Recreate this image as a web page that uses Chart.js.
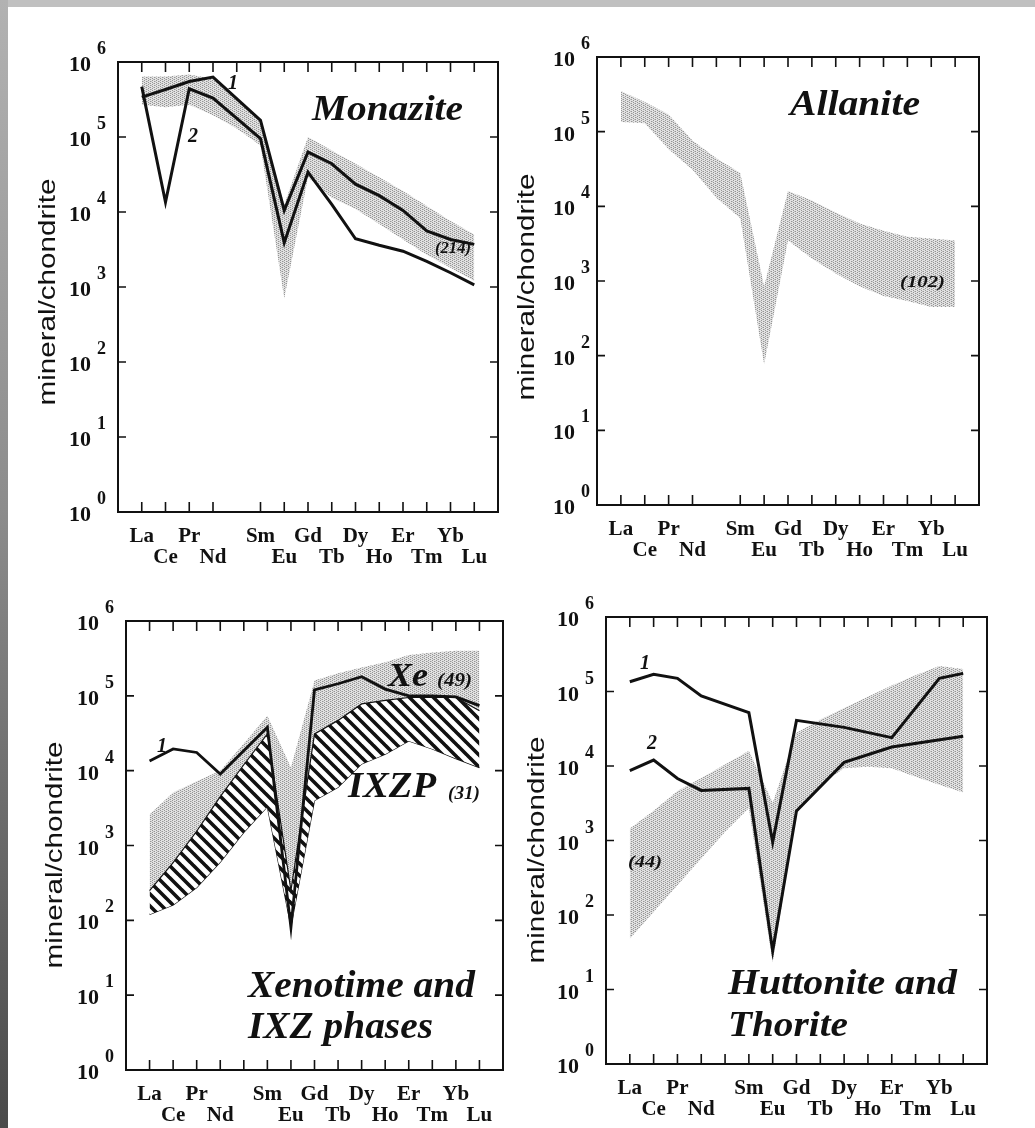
<!DOCTYPE html>
<html>
<head>
<meta charset="utf-8">
<title>REE patterns</title>
<script src="https://cdn.jsdelivr.net/npm/chart.js@4.4.1/dist/chart.umd.min.js"></script>
<style>
  html, body { margin: 0; padding: 0; background: #fff; }
  body { position: relative; width: 1035px; height: 1128px; overflow: hidden; }
  canvas { position: absolute; }
  #topbar { position: absolute; left: 0; top: 0; width: 1035px; height: 7px; background: #c0c0c0; }
  #leftbar { position: absolute; left: 0; top: 0; width: 8px; height: 1128px;
             background: linear-gradient(#b2b2b2, #8c8c8c 45%, #4a4a4a); }
</style>
</head>
<body>
<canvas id="monazite" width="517" height="564" style="left:0;top:0"></canvas>
<canvas id="allanite" width="518" height="564" style="left:517px;top:0"></canvas>
<canvas id="xenotime" width="517" height="564" style="left:0;top:564px"></canvas>
<canvas id="huttonite" width="518" height="564" style="left:517px;top:564px"></canvas>
<div id="topbar"></div>
<div id="leftbar"></div>
<script>
// REE in order, Pm has no label
var REE = ['La', 'Ce', 'Pr', 'Nd', '', 'Sm', 'Eu', 'Gd', 'Tb', 'Dy', 'Ho', 'Er', 'Tm', 'Yb', 'Lu'];
var DECADES = [1, 10, 100, 1e3, 1e4, 1e5, 1e6];

// Monazite
var monLine1 = [3.4e5, 4.3e5, 5.5e5, 6.3e5, null, 1.67e5, 1.05e4, 6.3e4, 4.4e4, 2.35e4, 1.65e4, 1.05e4, 5.6e3, 4.3e3, 3.7e3];
var monLine2 = [4.7e5, 1.35e4, 4.4e5, 3.3e5, null, 9.5e4, 3.9e3, 3.4e4, 1.26e4, 4.4e3, 3.6e3, 3.0e3, 2.2e3, 1.55e3, 1.07e3];
var monHi = [6.4e5, 6.4e5, 6.8e5, 6.0e5, 3.1e5, 1.6e5, 1.26e4, 1.0e5, 6.6e4, 4.4e4, 2.9e4, 1.9e4, 1.2e4, 7.6e3, 5.0e3];
var monLo = [2.7e5, 2.5e5, 2.7e5, 1.95e5, 1.3e5, 7.7e4, 700, 2.9e4, 1.55e4, 1.1e4, 6.9e3, 4.3e3, 2.7e3, 1.8e3, 1.2e3];

// Allanite
var allHi = [3.5e5, 2.5e5, 1.7e5, 7.6e4, 4.4e4, 2.8e4, 850, 1.6e4, 1.2e4, 8.3e3, 5.9e3, 4.7e3, 3.9e3, 3.7e3, 3.5e3];
var allLo = [1.35e5, 1.3e5, 5.8e4, 3.1e4, 1.3e4, 6.9e3, 76, 3.5e3, 2.0e3, 1.26e3, 850, 630, 540, 450, 450];

// Xenotime and IXZ phases
var xenLine1 = [1.35e4, 1.95e4, 1.75e4, 9.0e3, null, 3.8e4, 80, 1.2e5, 1.45e5, 1.8e5, 1.23e5, 1.0e5, 1.0e5, 9.7e4, 7.4e4];
var xeHi = [2.6e3, 5.1e3, 7.2e3, 1.0e4, 2.3e4, 5.4e4, 1.1e4, 1.6e5, 2.0e5, 2.4e5, 2.8e5, 3.5e5, 3.8e5, 4.0e5, 4.0e5];
var ixzpHi = [250, 590, 1.55e3, 4.5e3, 1.2e4, 3.1e4, 250, 3.1e4, 4.7e4, 7.8e4, 8.7e4, 9.5e4, 9.5e4, 9.5e4, 6.3e4];
var ixzpLo = [120, 160, 275, 600, 1.5e3, 3.3e3, 83, 4.0e3, 6.0e3, 1.23e4, 1.66e4, 2.5e4, 1.95e4, 1.45e4, 1.1e4];

// Huttonite and Thorite
var hutLine1 = [1.35e5, 1.7e5, 1.5e5, 8.7e4, null, 5.2e4, 950, 4.1e4, null, 3.3e4, null, 2.4e4, null, 1.5e5, 1.75e5];
var hutLine2 = [8.7e3, 1.2e4, 6.8e3, 4.7e3, null, 5.0e3, 33, 2.5e3, null, 1.12e4, null, 1.8e4, null, null, 2.5e4];
var hutHi = [1.45e3, 2.5e3, 4.6e3, 6.9e3, 1.05e4, 1.6e4, 3.2e3, 2.8e4, 4.2e4, 6.0e4, 8.5e4, 1.2e5, 1.65e5, 2.2e5, 2.0e5];
var hutLo = [48, 110, 250, 575, 1.3e3, 2.7e3, 23, 2.45e3, 5.6e3, 9.3e3, 9.8e3, 9.3e3, 7.2e3, 5.6e3, 4.4e3];

function pts(arr) {
    return arr.map(function (v, i) { return {x: i, y: v}; });
}

function stipple(ctx) {
    var t = document.createElement('canvas');
    t.width = t.height = 4;
    var g = t.getContext('2d');
    g.fillStyle = '#e2e2e2';
    g.fillRect(0, 0, 4, 4);
    g.fillStyle = '#959595';
    [[0, 0], [2, 1], [0, 2], [2, 3]].forEach(function (p) { g.fillRect(p[0], p[1], 1, 1); });
    g.fillStyle = '#c0c0c0';
    [[1, 3], [3, 1]].forEach(function (p) { g.fillRect(p[0], p[1], 1, 1); });
    return ctx.createPattern(t, 'repeat');
}

function hatch(ctx) {
    var t = document.createElement('canvas');
    t.width = t.height = 12;
    var g = t.getContext('2d');
    g.fillStyle = '#fff';
    g.fillRect(0, 0, 12, 12);
    g.strokeStyle = '#111';
    g.lineWidth = 3.6;
    g.beginPath();
    [-12, 0, 12].forEach(function (k) { g.moveTo(k - 1, -1); g.lineTo(k + 13, 13); });
    g.stroke();
    return ctx.createPattern(t, 'repeat');
}

function lineSet(arr, w) {
    return {data: pts(arr), borderColor: '#111', borderWidth: w, pointRadius: 0,
            fill: false, spanGaps: true, tension: 0};
}

function edgeSet(arr, fill, bg, border) {
    return {data: pts(arr), borderColor: border || 'rgba(0,0,0,0)', borderWidth: border ? 1.2 : 1,
            pointRadius: 0, fill: fill, backgroundColor: bg, tension: 0};
}

function serifText(ctx, s, x, y, size, w) {
    ctx.font = 'italic bold ' + size + 'px "Liberation Serif"';
    var m = ctx.measureText(s).width;
    ctx.save();
    ctx.translate(x, y);
    if (w) ctx.scale(w / m, 1);
    ctx.textAlign = 'left';
    ctx.fillText(s, 0, 0);
    ctx.restore();
}

// box, inward ticks, tick labels and notes
var frame = {
    id: 'frame',
    afterDatasetsDraw: function (chart, args, o) {
        var ctx = chart.ctx, a = chart.chartArea, x = chart.scales.x, y = chart.scales.y;
        ctx.save();
        ctx.strokeStyle = '#111';
        ctx.lineWidth = 2;
        ctx.strokeRect(a.left, a.top, a.right - a.left, a.bottom - a.top);
        ctx.lineWidth = 1.6;
        ctx.beginPath();
        REE.forEach(function (el, i) {
            var px = x.getPixelForValue(i);
            ctx.moveTo(px, a.top); ctx.lineTo(px, a.top + 10);
            if (el || o.pmTick) { ctx.moveTo(px, a.bottom); ctx.lineTo(px, a.bottom - 10); }
        });
        DECADES.slice(1, -1).forEach(function (v) {
            var py = y.getPixelForValue(v);
            ctx.moveTo(a.left, py); ctx.lineTo(a.left + 8, py);
            ctx.moveTo(a.right, py); ctx.lineTo(a.right - 8, py);
        });
        ctx.stroke();

        ctx.fillStyle = '#111';
        ctx.textBaseline = 'alphabetic';
        DECADES.forEach(function (v) {
            var py = y.getPixelForValue(v);
            ctx.font = 'bold 22px "Liberation Serif"';
            ctx.textAlign = 'right';
            ctx.fillText('10', a.left - o.gap, py + 9);
            ctx.font = 'bold 18px "Liberation Serif"';
            ctx.textAlign = 'left';
            ctx.fillText(String(Math.round(Math.log10(v))), a.left - o.gap + 6, py - 8);
        });

        ctx.font = 'bold 21px "Liberation Serif"';
        ctx.textAlign = 'center';
        var n = 0;
        REE.forEach(function (el, i) {
            if (!el) return;
            ctx.fillText(el, x.getPixelForValue(i), a.bottom + (n % 2 ? 51 : 30));
            n++;
        });

        ctx.save();
        ctx.translate(o.ytitle[0] - o.origin[0], o.ytitle[1] - o.origin[1]);
        ctx.rotate(-Math.PI / 2);
        ctx.font = '24px "Liberation Sans"';
        var tw = ctx.measureText('mineral/chondrite').width;
        ctx.scale(227 / tw, 1);
        ctx.textBaseline = 'middle';
        ctx.fillText('mineral/chondrite', 0, 0);
        ctx.restore();

        o.notes.forEach(function (t) {
            serifText(ctx, t[0], t[1] - o.origin[0], t[2] - o.origin[1], t[3], t[4]);
        });
        ctx.restore();
    }
};

function makeChart(id, datasets, pad, frameOpts) {
    return new Chart(document.getElementById(id), {
        type: 'line',
        data: {datasets: datasets},
        options: {
            responsive: false,
            animation: false,
            events: [],
            layout: {padding: pad},
            scales: {
                x: {type: 'linear', min: -1, max: 15, display: false},
                y: {type: 'logarithmic', min: 1, max: 1e6, display: false}
            },
            plugins: {legend: {display: false}, tooltip: {enabled: false}, frame: frameOpts}
        },
        plugins: [frame]
    });
}

var c1 = document.getElementById('monazite').getContext('2d');
makeChart('monazite', [
    lineSet(monLine1, 3),
    lineSet(monLine2, 3),
    edgeSet(monHi, '+1', stipple(c1)),
    edgeSet(monLo, false)
], {left: 118, top: 62, right: 19, bottom: 52}, {
    origin: [0, 0], gap: 27, pmTick: false, ytitle: [48, 292],
    notes: [['Monazite', 312, 120, 35, 151], ['1', 228, 89, 20], ['2', 188, 142, 20],
            ['(214)', 435, 253, 17, 36]]
});

var c2 = document.getElementById('allanite').getContext('2d');
makeChart('allanite', [
    edgeSet(allHi, '+1', stipple(c2)),
    edgeSet(allLo, false)
], {left: 80, top: 57, right: 56, bottom: 59}, {
    origin: [517, 0], gap: 22, pmTick: false, ytitle: [527, 287],
    notes: [['Allanite', 790, 115, 36, 130], ['(102)', 900, 287, 16, 45]]
});

var c3 = document.getElementById('xenotime').getContext('2d');
makeChart('xenotime', [
    lineSet(xenLine1, 2.8),
    edgeSet(ixzpHi, '+1', hatch(c3), '#111'),
    edgeSet(ixzpLo, false, undefined, '#111'),
    edgeSet(xeHi, 1, stipple(c3))
], {left: 126, top: 57, right: 14, bottom: 58}, {
    origin: [0, 564], gap: 27, pmTick: true, ytitle: [55, 855],
    notes: [['Xe', 388, 686, 34, 40], ['(49)', 437, 686, 18, 35],
            ['IXZP', 348, 797, 36, 88], ['(31)', 448, 799, 18, 32], ['1', 157, 752, 20],
            ['Xenotime and', 248, 997, 37, 227], ['IXZ phases', 248, 1038, 37, 185]]
});

var c4 = document.getElementById('huttonite').getContext('2d');
makeChart('huttonite', [
    lineSet(hutLine1, 3),
    lineSet(hutLine2, 3),
    edgeSet(hutHi, '+1', stipple(c4)),
    edgeSet(hutLo, false)
], {left: 89, top: 53, right: 48, bottom: 64}, {
    origin: [517, 564], gap: 27, pmTick: true, ytitle: [537, 850],
    notes: [['1', 640, 669, 20], ['2', 647, 749, 20], ['(44)', 628, 867, 17, 34],
            ['Huttonite and', 728, 994, 36, 229], ['Thorite', 728, 1036, 36, 120]]
});
</script>
</body>
</html>
